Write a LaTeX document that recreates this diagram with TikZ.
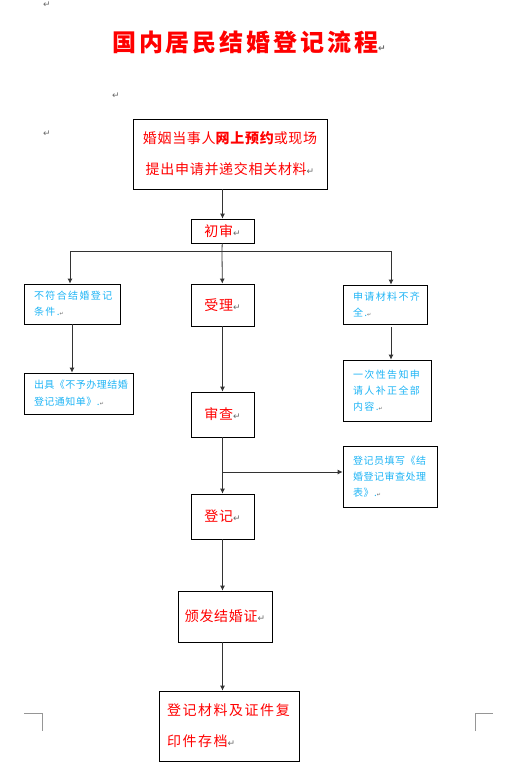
\documentclass[tikz,border=0pt]{standalone}
\usepackage{fontspec}
\usepackage{xcolor}
\usetikzlibrary{arrows.meta,calc}
\newfontfamily\cjk{Noto Sans CJK SC}
\newfontfamily\marksfont{DejaVu Sans}
\newfontfamily\notecjk[LetterSpace=14]{Noto Sans CJK SC}
\newfontfamily\notecjkn[LetterSpace=5]{Noto Sans CJK SC}
\newfontfamily\titlecjk[LetterSpace=12]{Noto Sans CJK SC}
\newfontfamily\boxcjk[LetterSpace=5]{Noto Sans CJK SC}
\newfontfamily\widecjk[LetterSpace=11]{Noto Sans CJK SC}
\definecolor{notecol}{RGB}{30,180,245}
\definecolor{markcol}{RGB}{105,105,105}
\newcommand\pmark{{\marksfont\fontsize{9}{9}\selectfont\textcolor{markcol}{↵}}}
\newcommand\pmarks{{\marksfont\fontsize{5}{5}\selectfont\textcolor{markcol}{↵}}}

\begin{document}
\begin{tikzpicture}
	[x=1pt, y=-1pt,
	 box/.style = {draw, line width=0.8pt, inner sep=0pt, align=center, text=red,
	               font=\boxcjk\fontsize{14}{31}\selectfont},
	 note/.style = {draw, line width=0.8pt, inner xsep=10pt, inner ysep=0pt, align=left,
	                text=notecol, font=\notecjk\fontsize{10}{16}\selectfont},
	 arr/.style = {line width=0.8pt, black!80, -{Latex[length=5pt,width=5pt]}},
	 pmk/.style = {inner sep=0pt, font=\marksfont\fontsize{9}{9}\selectfont, text=markcol}]
	\useasboundingbox (0,0) rectangle (523,771);
	% paragraph marks and title
	\node[pmk] (m1) at (47,5) {↵};
	\node[pmk] (m2) at (116,96) {↵};
	\node[pmk] (m3) at (47,134) {↵};
	\node[anchor=west, inner sep=0pt, text=red, font=\titlecjk\bfseries\fontsize{24}{24}\selectfont]
		(title) at (112,42) {国内居民结婚登记流程\pmark};
	% main column
	\node[box, minimum width=194, minimum height=70] (apply) at (230,154)
		{婚姻当事人{\bfseries 网上预约}或现场\\提出申请并递交相关材料\pmark};
	\node[box, minimum width=63, minimum height=24] (first) at (222.5,231) {初审\pmark};
	\node[box, minimum width=63, minimum height=42] (accept) at (222.5,305) {受理\pmark};
	\node[box, minimum width=63, minimum height=45] (review) at (222.5,414.5) {审查\pmark};
	\node[box, minimum width=63, minimum height=45] (register) at (222.5,516.5) {登记\pmark};
	\node[box, minimum width=94, minimum height=51] (issue) at (225,616.5) {颁发结婚证\pmark};
	\node[box, align=left, inner xsep=8pt, text width=124, minimum height=70,
		font=\widecjk\fontsize{14}{31}\selectfont] (archive) at (229,726)
		{登记材料及证件复\\印件存档\pmark};
	% side notes
	\node[note, text width=76, minimum height=40] (refuse) at (72,304)
		{不符合结婚登记\\条件.\pmarks};
	\node[note, text width=89, minimum height=41, font=\notecjkn\fontsize{10}{17}\selectfont]
		(notice) at (78.5,393.5) {出具《不予办理结婚\\登记通知单》.\pmarks};
	\node[note, text width=64, minimum height=39] (incomplete) at (385,304.5)
		{申请材料不齐\\全.\pmarks};
	\node[note, text width=68, minimum height=61] (inform) at (387,390.5)
		{一次性告知申\\请人补正全部\\内容.\pmarks};
	\node[note, text width=74, minimum height=61, font=\notecjkn\fontsize{10}{16}\selectfont]
		(form) at (390,476.5) {登记员填写《结\\婚登记审查处理\\表》.\pmarks};
	% connectors
	\coordinate (splitL) at (70,251);
	\coordinate (splitM) at (222,251);
	\coordinate (splitR) at (391,251);
	\coordinate (branch) at (222,472);
	\draw[arr] (first |- apply.south) -- (first);
	\draw[line width=0.8pt, black!80] (first) -- (splitM);
	\draw[line width=0.8pt, black!80] (splitL) -- (splitR);
	\draw[arr] (splitL) -- (splitL |- refuse.north);
	\draw[arr] (splitM) -- (accept);
	\draw[arr] (splitR) -- (splitR |- incomplete.north);
	\draw[arr] (refuse.south) -- (refuse.south |- notice.north);
	\draw[arr] ($(incomplete.south -| splitR)+(0,3)$) -- (splitR |- inform.north);
	\draw[arr] (accept) -- (review);
	\draw[arr] (review) -- (register);
	\draw[arr] (branch) -- (branch -| form.west);
	\draw[arr] (register.south) -- (register.south |- issue.north);
	\draw[arr] (register.south |- issue.south) -- (register.south |- archive.north);
	% page corner marks
	\draw[markcol!70, line width=0.8pt] (24,713) -- (42,713) -- (42,731);
	\draw[markcol!70, line width=0.8pt] (475,731) -- (475,713) -- (493,713);
\end{tikzpicture}
\end{document}
